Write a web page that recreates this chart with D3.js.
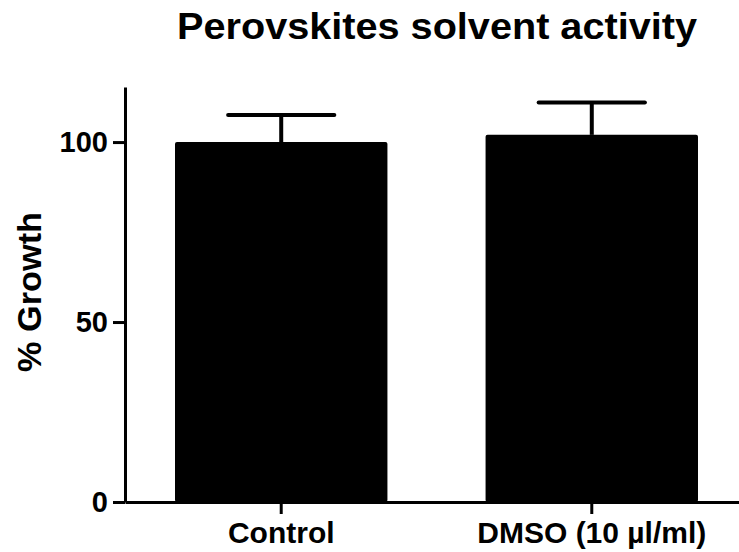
<!DOCTYPE html>
<html>
<head>
<meta charset="utf-8">
<script src="https://cdn.jsdelivr.net/npm/d3@7"></script>
<style>
  body { margin: 0; background: #fff; }
  text { font-family: "Liberation Sans", Arial, sans-serif; font-weight: bold; fill: #000; }
</style>
</head>
<body>
<svg width="739" height="552"></svg>
<script>
const svg = d3.select("svg");

// data
const groups = ["Control", "DMSO (10 \u00b5l/ml)"];
const means = [100, 102];
const errors = [7.5, 9];
const yTicks = [0, 50, 100];

const x = d3.scaleBand()
  .domain(groups)
  .range([125, 748])
  .paddingInner(0.316)
  .paddingOuter(0.161);

const y = d3.scaleLinear().domain([0, 115.3]).range([502, 87]);

// bars
svg.selectAll(".bar")
  .data(groups)
  .enter().append("rect")
  .attr("class", "bar")
  .attr("x", d => x(d))
  .attr("y", (d, i) => y(means[i]))
  .attr("width", x.bandwidth())
  .attr("height", (d, i) => y(0) - y(means[i]))
  .attr("rx", 2)
  .attr("fill", "#000");

// error bars (upper only)
const cap = x.bandwidth() * 0.5;
groups.forEach((g, i) => {
  const cx = x(g) + x.bandwidth() / 2;
  svg.append("line")
    .attr("x1", cx).attr("x2", cx)
    .attr("y1", y(means[i])).attr("y2", y(means[i] + errors[i]))
    .attr("stroke", "#000").attr("stroke-width", 4);
  svg.append("line")
    .attr("x1", cx - cap / 2).attr("x2", cx + cap / 2)
    .attr("y1", y(means[i] + errors[i])).attr("y2", y(means[i] + errors[i]))
    .attr("stroke", "#000").attr("stroke-width", 4)
    .attr("stroke-linecap", "round");
});

// y axis
const yAxis = svg.append("g")
  .attr("transform", "translate(125,0)")
  .call(d3.axisLeft(y).tickValues(yTicks).tickSize(12).tickPadding(5).tickSizeOuter(0));
yAxis.select(".domain").attr("stroke-width", 3);
yAxis.selectAll(".tick line").attr("stroke-width", 3);
yAxis.selectAll(".tick text")
  .attr("font-size", 29)
  .attr("font-family", "Liberation Sans, Arial, sans-serif")
  .attr("font-weight", "bold")
  .attr("fill", "#000");

// x axis
const xAxis = svg.append("g")
  .attr("transform", "translate(0,502)")
  .call(d3.axisBottom(x).tickSize(12).tickPadding(8).tickSizeOuter(0));
xAxis.select(".domain").attr("stroke-width", 3);
xAxis.selectAll(".tick line").attr("stroke-width", 3);
xAxis.selectAll(".tick text")
  .attr("font-size", 30)
  .attr("font-family", "Liberation Sans, Arial, sans-serif")
  .attr("font-weight", "bold")
  .attr("fill", "#000");

// title
svg.append("text")
  .attr("x", 437)
  .attr("y", 39)
  .attr("text-anchor", "middle")
  .attr("font-size", 36)
  .attr("textLength", 520)
  .attr("lengthAdjust", "spacingAndGlyphs")
  .text("Perovskites solvent activity");

// y label
svg.append("text")
  .attr("transform", "translate(41,292) rotate(-90)")
  .attr("text-anchor", "middle")
  .attr("font-size", 34)
  .attr("textLength", 160)
  .attr("lengthAdjust", "spacingAndGlyphs")
  .text("% Growth");
</script>
</body>
</html>
